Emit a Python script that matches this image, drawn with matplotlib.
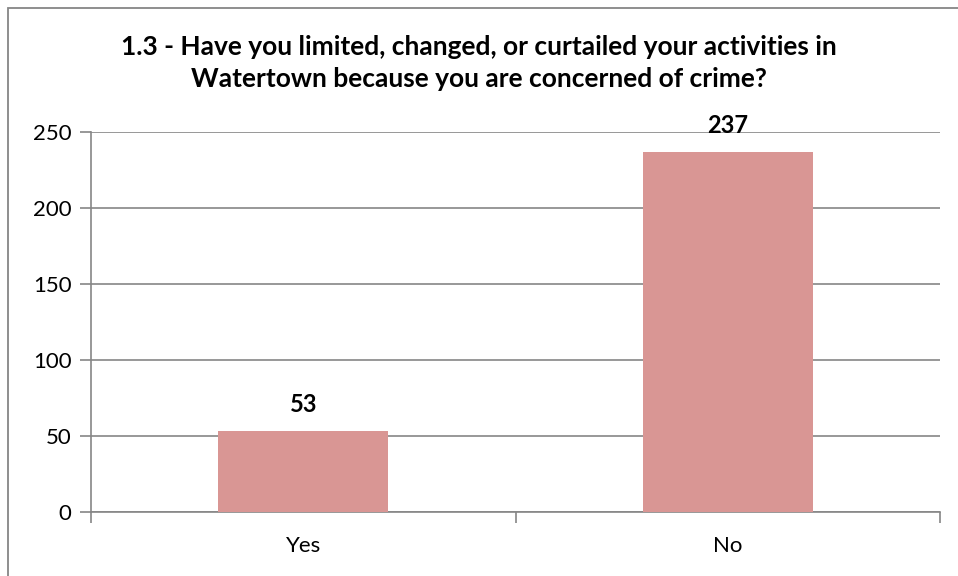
import matplotlib.pyplot as plt
from matplotlib.patches import Rectangle

categories = ['Yes', 'No']
counts = [53, 237]
yticks = [0, 50, 100, 150, 200, 250]
title = ('1.3 - Have you limited, changed, or curtailed your activities in\n'
         'Watertown because you are concerned of crime?')

W, H = 958, 576
plt.rcParams['font.family'] = ['Lato', 'DejaVu Sans']

fig = plt.figure(figsize=(W / 100, H / 100), dpi=100)
# outer chart border (right and bottom edges fall outside the image)
fig.patches.append(Rectangle((8 / W, -10 / H), (W + 10) / W, (H + 2) / H,
                             transform=fig.transFigure, fill=False,
                             edgecolor='#868686', linewidth=1.3))

# axes in pixel coords: left 91, right 940, top 132, bottom 512
ax = fig.add_axes([91 / W, (H - 512) / H, (940 - 91) / W, (512 - 132) / H])
x = range(len(categories))
ax.bar(x, counts, width=0.4, color='#D99694', zorder=3)
for xi, v in zip(x, counts):
    ax.text(xi, v + 10, str(v), ha='center', va='bottom',
            fontsize=17, fontweight='bold')

ax.set_xlim(-0.5, 1.5)
ax.set_ylim(0, 250)
ax.set_yticks(yticks)
ax.grid(axis='y', color='#868686', linewidth=1.2, zorder=0)
ax.set_xticks(x)
ax.set_xticklabels(categories, fontsize=16)
ax.tick_params(axis='x', length=0, pad=17)
ax.tick_params(axis='y', labelsize=16, length=8, color='#868686', width=1.2, pad=6)
# x ticks at category boundaries
ax.set_xticks([-0.5, 0.5, 1.5], minor=True)
ax.tick_params(axis='x', which='minor', length=8, color='#868686', width=1.2)

for s in ['top', 'right']:
    ax.spines[s].set_visible(False)
for s in ['left', 'bottom']:
    ax.spines[s].set_color('#868686')
    ax.spines[s].set_linewidth(1.2)

fig.text(0.5, (H - 63) / H, title, ha='center', va='center',
         fontsize=19, fontweight='bold', linespacing=1.4)

fig.savefig('out.png', dpi=100)
